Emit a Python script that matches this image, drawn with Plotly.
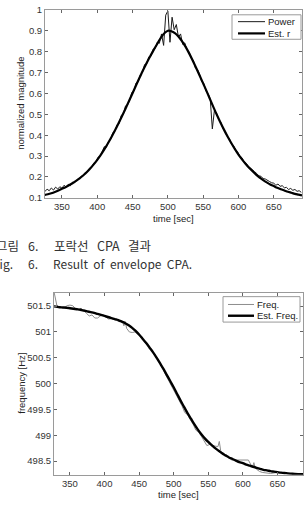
import plotly.graph_objects as go

# ---------------- data: top chart (envelope CPA) ----------------
est_r_time = [325, 330, 335, 340, 345, 350, 355, 360, 365, 370, 375, 380, 385, 390, 395,
              400, 405, 410, 415, 420, 425, 430, 435, 440, 445, 450, 455, 460, 465, 470,
              475, 480, 485, 490, 495, 500, 505, 510, 515, 520, 525, 530, 535, 540, 545,
              550, 555, 560, 565, 570, 575, 580, 585, 590, 595, 600, 605, 610, 615, 620,
              625, 630, 635, 640, 645, 650, 655, 660, 665, 670, 675, 680, 685, 690]
est_r_val = [0.113, 0.117, 0.122, 0.128, 0.135, 0.143, 0.151, 0.160, 0.170, 0.181, 0.193,
             0.207, 0.222, 0.240, 0.260, 0.282, 0.306, 0.332, 0.360, 0.390, 0.422, 0.456,
             0.491, 0.527, 0.564, 0.601, 0.639, 0.676, 0.712, 0.746, 0.778, 0.808, 0.838,
             0.866, 0.888, 0.900, 0.898, 0.889, 0.873, 0.851, 0.824, 0.793, 0.759, 0.723,
             0.686, 0.648, 0.610, 0.570, 0.531, 0.493, 0.457, 0.423, 0.391, 0.361, 0.333,
             0.307, 0.284, 0.263, 0.244, 0.227, 0.211, 0.197, 0.185, 0.174, 0.164, 0.156,
             0.148, 0.141, 0.135, 0.129, 0.124, 0.119, 0.115, 0.111]

power_time = [326, 329, 332, 335, 338, 341, 344, 347, 350, 353, 356, 359, 362, 365, 368,
              371, 374, 377, 380, 383, 386, 389, 392, 395, 398, 401, 404, 407, 410, 413,
              416, 419, 422, 425, 428, 431, 434, 437, 440, 443, 446, 449, 452, 455, 458,
              461, 464, 467, 470, 473, 476, 479, 482, 485, 488, 491, 494, 497, 500, 503,
              506, 509, 512, 515, 518, 521, 524, 527, 530, 533, 536, 539, 542, 545, 548,
              551, 554, 557, 560, 563, 566, 569, 572, 575, 578, 581, 584, 587, 590, 593,
              596, 599, 602, 605, 608, 611, 614, 617, 620, 623, 626, 629, 632, 635, 638,
              641, 644, 647, 650, 653, 656, 659, 662, 665, 668, 671, 674, 677, 680, 683,
              686, 689]
power_val = [0.131, 0.141, 0.134, 0.147, 0.137, 0.151, 0.142, 0.153, 0.146, 0.160, 0.151,
             0.165, 0.158, 0.175, 0.172, 0.184, 0.189, 0.203, 0.205, 0.220, 0.224, 0.241,
             0.246, 0.266, 0.271, 0.294, 0.298, 0.318, 0.345, 0.342, 0.371, 0.380, 0.412,
             0.418, 0.450, 0.455, 0.495, 0.500, 0.540, 0.545, 0.568, 0.605, 0.612, 0.650,
             0.655, 0.690, 0.700, 0.738, 0.742, 0.775, 0.778, 0.812, 0.815, 0.845, 0.840,
             0.885, 0.830, 0.975, 0.995, 0.845, 0.965, 0.905, 0.930, 0.870, 0.885, 0.835,
             0.842, 0.808, 0.800, 0.770, 0.760, 0.722, 0.715, 0.690, 0.655, 0.648, 0.610,
             0.600, 0.575, 0.430, 0.520, 0.505, 0.475, 0.462, 0.432, 0.420, 0.394, 0.385,
             0.358, 0.350, 0.330, 0.318, 0.300, 0.292, 0.272, 0.265, 0.250, 0.243, 0.232,
             0.225, 0.216, 0.205, 0.203, 0.192, 0.190, 0.182, 0.178, 0.172, 0.170, 0.160,
             0.166, 0.155, 0.158, 0.148, 0.150, 0.140, 0.145, 0.136, 0.140, 0.131, 0.134,
             0.126]

# ---------------- data: bottom chart (frequency) ----------------
est_f_time = est_r_time
est_f_val = [501.50, 501.49, 501.48, 501.475, 501.47, 501.46, 501.45, 501.44, 501.43,
             501.415, 501.40, 501.385, 501.37, 501.35, 501.33, 501.31, 501.29, 501.27,
             501.25, 501.23, 501.20, 501.17, 501.13, 501.08, 501.02, 500.95, 500.87,
             500.79, 500.70, 500.61, 500.51, 500.40, 500.29, 500.17, 500.05, 499.93,
             499.80, 499.67, 499.55, 499.43, 499.32, 499.21, 499.11, 499.02, 498.94,
             498.87, 498.81, 498.75, 498.70, 498.65, 498.61, 498.57, 498.54, 498.51,
             498.48, 498.46, 498.43, 498.41, 498.39, 498.37, 498.35, 498.33, 498.32,
             498.305, 498.295, 498.285, 498.275, 498.27, 498.262, 498.256, 498.25,
             498.247, 498.245, 498.244]

freq_time = [327, 329, 331, 334, 338, 342, 346, 350, 354, 358, 362, 366, 370, 374, 378,
             382, 386, 390, 394, 398, 402, 406, 410, 414, 418, 422, 426, 428, 430, 432,
             436, 440, 444, 448, 452, 456, 460, 464, 468, 472, 476, 480, 484, 488, 492,
             496, 500, 504, 508, 512, 516, 520, 524, 528, 532, 536, 540, 544, 548, 552,
             556, 560, 564, 566, 568, 572, 576, 580, 584, 588, 592, 596, 600, 604, 608,
             612, 614, 616, 618, 620, 624, 628, 632, 636, 640, 645, 650, 660, 670, 680, 690]
freq_val = [501.78, 501.65, 501.52, 501.49, 501.47, 501.47, 501.51, 501.52, 501.51, 501.45,
            501.43, 501.46, 501.40, 501.36, 501.31, 501.33, 501.27, 501.27, 501.31, 501.33,
            501.29, 501.25, 501.26, 501.24, 501.22, 501.20, 501.21, 501.12, 501.20, 501.07,
            501.00, 500.99, 501.00, 500.96, 500.90, 500.86, 500.77, 500.72, 500.65, 500.58,
            500.48, 500.40, 500.30, 500.18, 500.08, 500.00, 499.90, 499.78, 499.68, 499.57,
            499.44, 499.40, 499.30, 499.22, 499.10, 499.06, 498.98, 498.88, 498.80, 498.82,
            498.80, 498.79, 498.78, 498.88, 498.70, 498.64, 498.60, 498.57, 498.52, 498.52,
            498.52, 498.52, 498.52, 498.52, 498.52, 498.42, 498.38, 498.47, 498.36, 498.34,
            498.30, 498.28, 498.27, 498.26, 498.26, 498.27, 498.28, 498.27, 498.25, 498.25,
            498.24]

x_ticks = [350, 400, 450, 500, 550, 600, 650]
y1_ticks = [0.1, 0.2, 0.3, 0.4, 0.5, 0.6, 0.7, 0.8, 0.9, 1]
y1_ticklabels = ["0.1", "0.2", "0.3", "0.4", "0.5", "0.6", "0.7", "0.8", "0.9", "1"]
y2_ticks = [498.5, 499, 499.5, 500, 500.5, 501, 501.5]
y2_ticklabels = ["498.5", "499", "499.5", "500", "500.5", "501", "501.5"]

W, H = 307, 514
FONT = "Liberation Sans, Arial, sans-serif"
KFONT = "Noto Sans CJK KR, sans-serif"
FRAME = "#9a9a9a"


def px(x):
    return x / W


def py(y):
    return 1 - y / H


fig = go.Figure()

fig.add_trace(go.Scatter(x=power_time, y=power_val, mode="lines", name="Power",
                         line=dict(color="#1a1a1a", width=1), xaxis="x", yaxis="y"))
fig.add_trace(go.Scatter(x=est_r_time, y=est_r_val, mode="lines", name="Est. r",
                         line=dict(color="#000000", width=2.2, shape="spline"),
                         xaxis="x", yaxis="y"))
fig.add_trace(go.Scatter(x=freq_time, y=freq_val, mode="lines", name="Freq.",
                         line=dict(color="#8c8c8c", width=1), xaxis="x2", yaxis="y2"))
fig.add_trace(go.Scatter(x=est_f_time, y=est_f_val, mode="lines", name="Est. Freq.",
                         line=dict(color="#000000", width=2.4, shape="spline"),
                         xaxis="x2", yaxis="y2"))

axis_common = dict(showline=True, linecolor=FRAME, linewidth=1, mirror="ticks",
                   ticks="inside", ticklen=3, tickcolor="#666", showgrid=False,
                   zeroline=False, ticklabeloverflow="allow",
                   tickfont=dict(family=FONT, size=9.5, color="#333"))

fig.update_layout(
    width=W, height=H,
    margin=dict(l=0, r=0, t=0, b=0),
    paper_bgcolor="white", plot_bgcolor="white",
    font=dict(family=FONT, size=10, color="#222"),
    showlegend=False,
    xaxis=dict(domain=[px(45), px(302)], anchor="y", range=[326, 690],
               tickvals=x_ticks, **axis_common),
    yaxis=dict(domain=[py(196), py(4)], anchor="x", range=[0.1, 1],
               tickvals=y1_ticks, ticktext=y1_ticklabels, **axis_common),
    xaxis2=dict(domain=[px(54), px(303)], anchor="y2", range=[327, 687],
                tickvals=x_ticks, **axis_common),
    yaxis2=dict(domain=[py(479), py(293)], anchor="x2", range=[498.235, 501.76],
                tickvals=y2_ticks, ticktext=y2_ticklabels, **axis_common),
)

ann = []
shapes = []
tfont = dict(family=FONT, size=9.5, color="#222")


def txt(s, x, y, xa="center", ya="middle", angle=0, font=tfont):
    ann.append(dict(text=s, x=px(x), y=py(y), xref="paper", yref="paper",
                    xanchor=xa, yanchor=ya, textangle=angle, showarrow=False,
                    font=font))


# axis titles
txt("normalized magnitude", 21, 100, angle=-90)
txt("time [sec]", 173, 217.5)
txt("frequency [Hz]", 22, 386, angle=-90)
txt("time [sec]", 178, 499.5)

# legends (drawn as box + sample lines + labels)
def legend_box(x0, y0, x1, y1, items):
    shapes.append(dict(type="rect", xref="paper", yref="paper", x0=px(x0), x1=px(x1),
                       y0=py(y1), y1=py(y0), line=dict(color=FRAME, width=1),
                       fillcolor="white", layer="above"))
    for (label, color, width, ly, lx0, lx1, tx) in items:
        shapes.append(dict(type="line", xref="paper", yref="paper", x0=px(lx0), x1=px(lx1),
                           y0=py(ly), y1=py(ly), line=dict(color=color, width=width),
                           layer="above"))
        txt(label, tx, ly, xa="left")


legend_box(232, 9, 301, 34, [
    ("Power", "#1a1a1a", 1, 16, 238, 265, 266),
    ("Est. r", "#000000", 2.2, 28, 238, 265, 266),
])
legend_box(223, 297, 300, 323, [
    ("Freq.", "#8c8c8c", 1, 305, 228, 254, 255),
    ("Est. Freq.", "#000000", 2.4, 316.5, 228, 254, 255),
])

# captions
kcap = dict(family=KFONT, size=12.5, color="#333")
ecap = dict(family=KFONT, size=12, color="#333")
txt("그림", 21, 245, xa="right", font=kcap)
txt("6.", 26, 245, xa="left", font=kcap)
txt("포락선   CPA   결과", 52, 245, xa="left", font=kcap)
txt("Fig.", 15, 263, xa="right", font=ecap)
txt("6.", 26, 263, xa="left", font=ecap)
txt("Result  of  envelope  CPA.", 51, 263, xa="left", font=ecap)

fig.update_layout(annotations=ann, shapes=shapes)

fig.write_html("out.html")
